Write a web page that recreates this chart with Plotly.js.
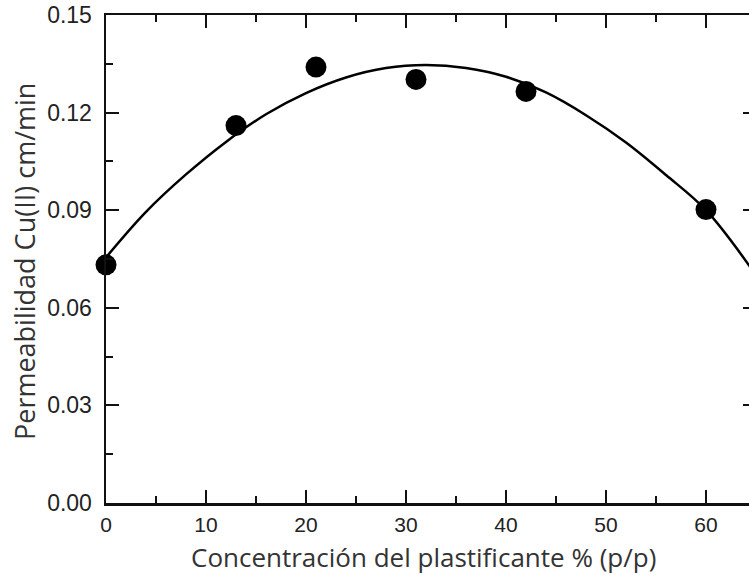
<!DOCTYPE html>
<html>
<head>
<meta charset="utf-8">
<script src="https://cdn.plot.ly/plotly-3.0.1.min.js"></script>
<style>
html, body { margin: 0; padding: 0; overflow: hidden; background: #fff; }
#chart { width: 760px; height: 575px; }
</style>
</head>
<body>
<div id="chart"></div>
<script>
// Measured points
const concentracion = [0, 13, 21, 31, 42, 60];
const permeabilidad = [0.0732, 0.1160, 0.1340, 0.1302, 0.1265, 0.0902];

// Fitted curve
const curvaX = [0, 4, 8, 12, 16, 20, 24, 28, 32, 36, 40, 44, 48, 52, 56, 60, 64.5];
const curvaY = [0.0755, 0.0895, 0.1010, 0.1110, 0.1195, 0.1260, 0.1308, 0.1337, 0.1346, 0.1337, 0.1310, 0.1262, 0.1192, 0.1108, 0.1008, 0.0900, 0.0722];

const xTicks = [0, 10, 20, 30, 40, 50, 60];
const yTicks = [0.00, 0.03, 0.06, 0.09, 0.12, 0.15];
const yTickText = ["0.00", "0.03", "0.06", "0.09", "0.12", "0.15"];

const xTitle = "Concentración del plastificante % (p/p)";
const yTitle = "Permeabilidad Cu(II) cm/min";

const traces = [
  {
    x: curvaX, y: curvaY, mode: 'lines', type: 'scatter',
    line: {color: '#000', width: 2.5, shape: 'spline'},
    hoverinfo: 'skip', showlegend: false, cliponaxis: true
  },
  {
    x: concentracion, y: permeabilidad, mode: 'markers', type: 'scatter',
    marker: {color: '#000', size: 21},
    showlegend: false, cliponaxis: false
  }
];

const axisCommon = {
  showgrid: false, zeroline: false, showline: true, linecolor: '#111', linewidth: 2.5,
  ticks: 'inside', ticklen: 13, tickwidth: 2, tickcolor: '#111', mirror: 'allticks'
};

const layout = {
  width: 760, height: 575,
  margin: {l: 106, r: 4, t: 15, b: 72},
  paper_bgcolor: '#fff', plot_bgcolor: '#fff',
  xaxis: Object.assign({}, axisCommon, {
    range: [0, 65], tickvals: xTicks, ticktext: xTicks.map(String),
    ticklabelstandoff: 1,
    tickfont: {family: 'Liberation Sans, Arial, sans-serif', size: 21, color: '#222'},
    minor: {dtick: 5, tick0: 0, ticks: 'inside', ticklen: 7, tickwidth: 2, tickcolor: '#111'}
  }),
  yaxis: Object.assign({}, axisCommon, {
    range: [0, 0.15], tickvals: yTicks, ticktext: yTickText,
    ticklabelstandoff: 7,
    tickfont: {family: 'Liberation Sans, Arial, sans-serif', size: 23, color: '#222'},
    minor: {dtick: 0.015, tick0: 0, ticks: 'inside', ticklen: 7, tickwidth: 2, tickcolor: '#111'}
  }),
  annotations: [
    {text: xTitle, xref: 'paper', yref: 'paper', x: (423 - 106) / 650, y: 0, yshift: -54,
     xanchor: 'center', yanchor: 'middle', showarrow: false,
     font: {family: 'Open Sans, sans-serif', size: 26, color: '#333'}},
    {text: yTitle, xref: 'paper', yref: 'paper', x: 0, xshift: -82, y: (503 - 262) / 488,
     xanchor: 'center', yanchor: 'middle', showarrow: false, textangle: -90,
     font: {family: 'Open Sans, sans-serif', size: 27, color: '#333'}}
  ]
};

Plotly.newPlot('chart', traces, layout, {displayModeBar: false, staticPlot: true});
</script>
</body>
</html>
